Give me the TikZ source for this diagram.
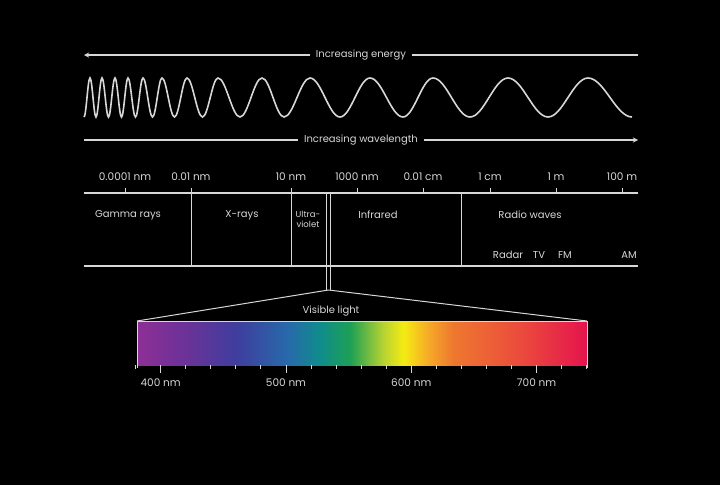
\documentclass[tikz,border=0pt]{standalone}
\usepackage{fontspec}
\setmainfont{Poppins}
\usetikzlibrary{arrows}

\definecolor{ink}{RGB}{215,215,215}
\definecolor{sp1}{RGB}{142,47,150}
\definecolor{sp2}{RGB}{108,50,152}
\definecolor{sp3}{RGB}{62,62,158}
\definecolor{sp4}{RGB}{40,105,170}
\definecolor{sp5}{RGB}{15,140,140}
\definecolor{sp6}{RGB}{30,160,85}
\definecolor{sp7}{RGB}{180,210,50}
\definecolor{sp8}{RGB}{245,235,20}
\definecolor{sp9}{RGB}{245,165,40}
\definecolor{sp10}{RGB}{238,120,48}
\definecolor{sp11}{RGB}{235,75,60}
\definecolor{sp12}{RGB}{228,20,78}
\pgfdeclarehorizontalshading{spectrum}{100bp}{color(0bp)=(sp1); color(25bp)=(sp1);
  color(30.3bp)=(sp2); color(36.1bp)=(sp3); color(41.7bp)=(sp4); color(45.3bp)=(sp5);
  color(48.7bp)=(sp6); color(52.3bp)=(sp7); color(54.6bp)=(sp8); color(57.6bp)=(sp9);
  color(60.1bp)=(sp10); color(67.6bp)=(sp11); color(75bp)=(sp12); color(100bp)=(sp12)}

\begin{document}
\begin{tikzpicture}[x=1pt,y=-1pt,>=stealth,
  rule/.style={draw=ink,line width=1.3pt},
  wave/.style={draw=ink,line width=1.6pt},
  tick/.style={draw=ink,line width=1pt},
  lbl/.style={text=ink,font=\fontsize{10}{11}\selectfont,inner sep=1pt},
  num/.style={lbl,font=\fontsize{10.5}{11}\selectfont},
  gap/.style={lbl,fill=black,inner xsep=6pt}]

\fill[black] (0,0) rectangle (720,485);
\useasboundingbox (0,0) rectangle (720,485);

\coordinate (eL) at (84,55);
\coordinate (eR) at (638,55);
\draw[rule,<-] (eL) -- node[gap] (energy) {Increasing energy} (eR);

\draw[wave] (84,117) \foreach \p/\c/\t in {84/90/96, 96/102/108.5, 108.5/115/121.5,
    121.5/128/135.5, 135.5/143/152.5, 152.5/162/174.5, 174.5/187/202.5, 202.5/218/240,
    240/262/284, 284/310/340, 340/370/403, 403/433/470, 470/508/548, 548/588/632}
  { cos ({(\p+\c)/2},97.5) sin (\c,78) cos ({(\c+\t)/2},97.5) sin (\t,117) };

\coordinate (wL) at (84,140);
\coordinate (wR) at (638,140);
\draw[rule,->] (wL) -- node[gap] (wavelength) {Increasing wavelength} (wR);

\draw[rule] (84,193) -- (638,193);
\draw[rule] (84,266) -- (638,266);
\foreach \x/\txt/\n in {125/0.0001 nm/1, 191/0.01 nm/2, 291/10 nm/3, 357/1000 nm/4,
    423/0.01 cm/5, 490/1 cm/6, 556/1 m/7, 622/100 m/8} {
  \node[num] (s\n) at (\x,177) {\txt};
  \draw[tick] (\x,188) -- (\x,193);
}
\foreach \x in {191,291,461} \draw[tick] (\x,193) -- (\x,266);
\draw[tick] (326.5,193) -- (326.5,290);
\draw[tick] (330.5,193) -- (330.5,290);

\node[lbl] (gamma) at (128,215) {Gamma rays};
\node[lbl] (xray) at (242,215) {X-rays};
\node[lbl,align=center,font=\fontsize{8.5}{10}\selectfont] (uv) at (308,219) {Ultra-\\violet};
\node[lbl] (ir) at (378,215) {Infrared};
\node[lbl] (radio) at (530,215) {Radio waves};
\node[lbl] (radar) at (508,255) {Radar};
\node[lbl] (tv) at (539,255) {TV};
\node[lbl] (fm) at (565,255) {FM};
\node[lbl] (am) at (629,255) {AM};

\coordinate (vis) at (328.5,290);
\coordinate (barL) at (137,321);
\coordinate (barR) at (587,321);
\draw[tick] (barL) -- (vis) -- (barR);
\node[lbl] (visible) at (331,311) {Visible light};

\shade[shading=spectrum] (137,321) rectangle (587,365);
\draw[draw=ink,line width=0.6pt] (137,368) -- (barL) -- (barR) -- (587,368);
\foreach \w in {380,400,...,740} \draw[tick] ({160.7+(\w-400)*1.253},365) -- ++(0,3.5);
\foreach \w in {400,500,600,700} {
  \draw[tick] ({160.7+(\w-400)*1.253},365) -- ++(0,8);
  \node[num] (nm\w) at ({160.7+(\w-400)*1.253},383) {\w\ nm};
}
\end{tikzpicture}
\end{document}
